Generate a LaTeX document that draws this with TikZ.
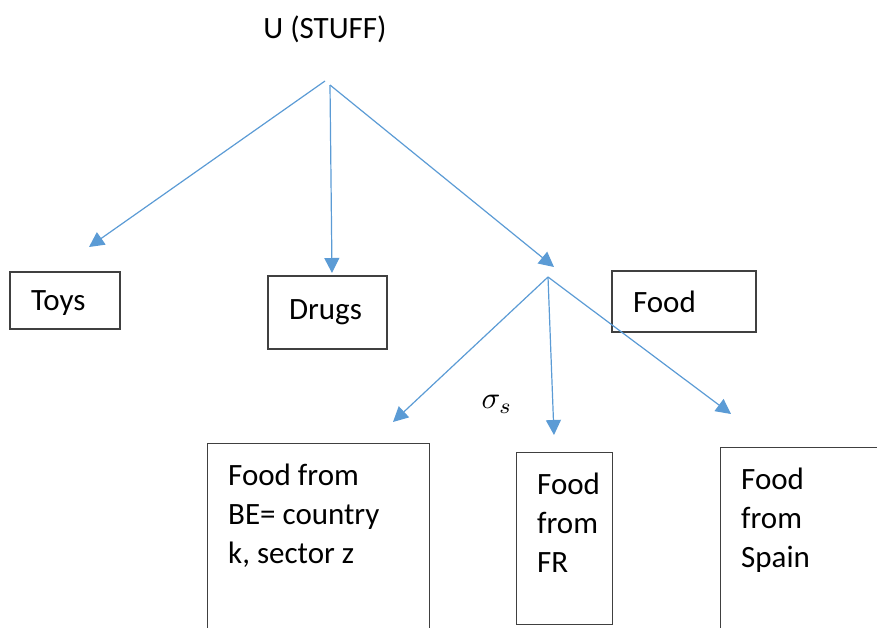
\documentclass[tikz,border=0pt]{standalone}
\usepackage{fontspec}
\setmainfont{Carlito}
\usetikzlibrary{arrows.meta,positioning}
\definecolor{arrowblue}{RGB}{91,155,213}
\definecolor{boxline}{RGB}{64,64,64}

\begin{document}
\begin{tikzpicture}[x=1pt,y=-1pt,
		box/.style={draw=boxline,line width=1.4pt,inner ysep=0pt,inner xsep=21pt,align=left,font=\fontsize{31}{39}\selectfont},
		word/.style={inner sep=0pt,anchor=north west,align=left,font=\fontsize{31}{39}\selectfont},
		tree/.style={draw=arrowblue,line width=1.2pt,-{Triangle[length=15pt,width=15pt]}}]
		\clip (0,0) rectangle (877,627);
		
		\node[word,anchor=center] (stuff) at (325,29) {U (STUFF)};
		
		\node[box,text width=68pt,text depth=0pt,minimum height=57pt] (toys) at (65,300.5) {Toys};
		\node[box,text width=77pt,minimum height=73pt] (drugs) at (327.5,312.5) {Drugs};
		\node[box,text width=102pt,minimum height=61pt] (food) at (684,301.5) {Food};
		
		\node[box,anchor=north west,minimum width=222pt,minimum height=260pt] (be) at (207,443) {};
		\node[word,below right=21pt and 21pt of be.north west] (betext) {Food from\\BE= country\\k, sector z};
		
		\node[box,anchor=north west,minimum width=96pt,minimum height=172pt] (fr) at (516,452) {};
		\node[word,below right=21pt and 21pt of fr.north west] (frtext) {Food\\from\\FR};
		
		\node[box,anchor=north west,minimum width=300pt,minimum height=260pt] (es) at (720,447) {};
		\node[word,below right=21pt and 21pt of es.north west] (estext) {Food\\from\\Spain};
		
		\node[inner sep=0pt,scale=3.1] (sigma) at (497,404) {$\sigma_s$};
		
		\coordinate (u1) at (325,81);
		\coordinate (u2) at (330,85);
		\coordinate (toystip) at (89,247);
		\coordinate (drugstip) at (332,273);
		\coordinate (foodtip) at (554,267);
		\draw[tree] (u1) -- (toystip);
		\draw[tree] (u2) -- (drugstip);
		\draw[tree] (u2) -- (foodtip);
		
		\coordinate (f0) at (548,277);
		\coordinate (betip) at (393,422);
		\coordinate (frtip) at (554,435);
		\coordinate (estip) at (731,414);
		\draw[tree] (f0) -- (betip);
		\draw[tree] (f0) -- (frtip);
		\draw[tree] (f0) -- (estip);
\end{tikzpicture}
\end{document}
